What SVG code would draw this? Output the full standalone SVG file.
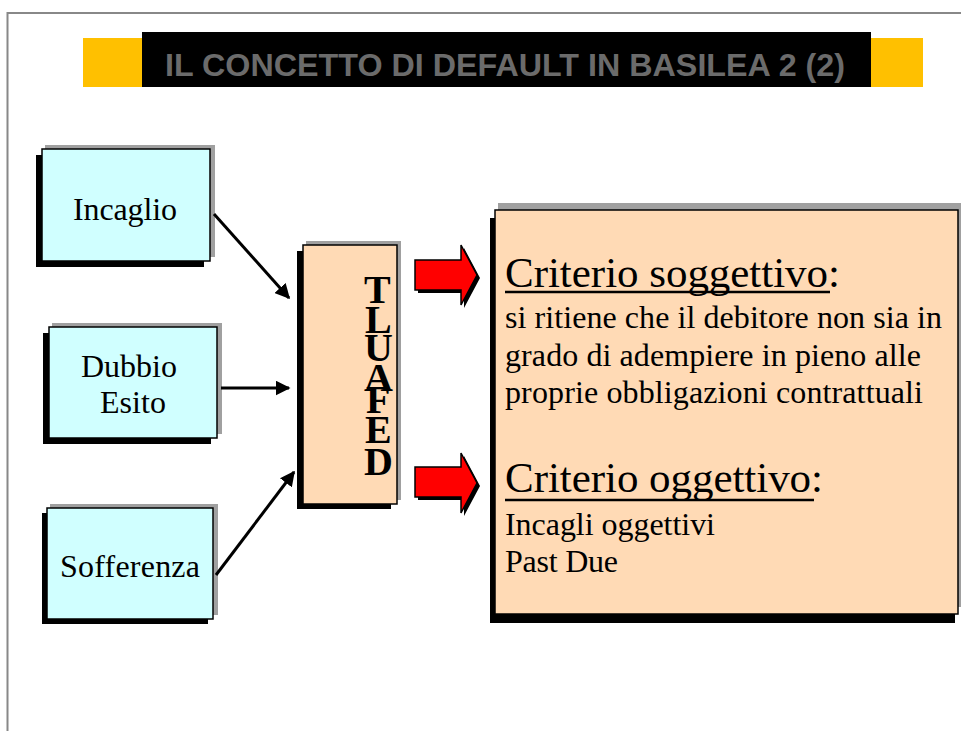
<svg xmlns="http://www.w3.org/2000/svg" width="961" height="731" viewBox="0 0 961 731">
<defs>
<style>
.frame{fill:none;stroke:#888888;stroke-width:2}
.gsh{fill:#a0a0a0}
.bsh{fill:#000000}
.cyan{fill:#d0ffff;stroke:#000;stroke-width:1.5}
.peach{fill:#ffdab5;stroke:#000;stroke-width:1.5}
.lbl{font-family:"Liberation Serif","Times New Roman",serif;font-size:32px;fill:#000}
.big{font-family:"Liberation Serif","Times New Roman",serif;font-size:43px;fill:#000}
.vl{font-family:"Liberation Serif","Times New Roman",serif;font-size:40px;font-weight:bold;fill:#000}
.title{font-family:"Liberation Sans",Arial,sans-serif;font-size:32px;font-weight:bold;fill:#6b6b6b}
.conn{stroke:#000;stroke-width:3;fill:none;marker-end:url(#ah)}
.red{fill:#ff0000;stroke:#000;stroke-width:1.5}
.ul{stroke:#000;stroke-width:2.5}
</style>
<marker id="ah" viewBox="0 0 10 10" refX="9" refY="5" markerWidth="5" markerHeight="5" orient="auto" markerUnits="strokeWidth">
<path d="M0,0 L10,5 L0,10 z" fill="#000"/>
</marker>
</defs>
<rect width="961" height="731" fill="#ffffff"/>
<path class="frame" d="M7.5,731 V13 H961"/>

<g id="title">
<rect x="83" y="38" width="840" height="49" fill="#ffc000"/>
<rect x="142" y="32" width="729" height="55" fill="#000"/>
<text class="title" x="165" y="76" textLength="680" lengthAdjust="spacingAndGlyphs">IL CONCETTO DI DEFAULT IN BASILEA 2 (2)</text>
</g>

<g id="incaglio">
<rect class="gsh" x="45" y="145" width="170" height="112"/>
<rect class="bsh" x="36" y="155" width="168" height="112"/>
<rect class="cyan" x="42" y="149" width="168" height="112"/>
<text class="lbl" x="73" y="220" textLength="104">Incaglio</text>
</g>

<g id="dubbio">
<rect class="gsh" x="52" y="323" width="170" height="111"/>
<rect class="bsh" x="43" y="333" width="168" height="111"/>
<rect class="cyan" x="49" y="327" width="168" height="111"/>
<text class="lbl" x="81" y="377" textLength="96">Dubbio</text>
<text class="lbl" x="100" y="413" textLength="66">Esito</text>
</g>

<g id="sofferenza">
<rect class="gsh" x="50" y="504" width="168" height="111"/>
<rect class="bsh" x="42" y="513" width="166" height="111"/>
<rect class="cyan" x="47" y="508" width="166" height="111"/>
<text class="lbl" x="60" y="577" textLength="140">Sofferenza</text>
</g>

<g id="default">
<rect class="gsh" x="306" y="241" width="95" height="259"/>
<rect class="bsh" x="297" y="251" width="94" height="258"/>
<rect class="peach" x="303" y="245" width="94" height="259"/>
<text class="vl" x="364" y="303">T</text>
<text class="vl" x="365" y="333">L</text>
<text class="vl" x="364" y="361">U</text>
<text class="vl" x="364" y="391">A</text>
<text class="vl" x="366" y="413">F</text>
<text class="vl" x="365" y="443">E</text>
<text class="vl" x="364" y="475">D</text>
</g>

<g id="criteri">
<rect class="gsh" x="498" y="203" width="463" height="404"/>
<rect class="bsh" x="490" y="218" width="465" height="405"/>
<rect class="peach" x="495" y="210" width="463" height="404"/>
<text class="big" x="505" y="287" textLength="335">Criterio soggettivo:</text>
<line class="ul" x1="505" y1="292" x2="830" y2="292"/>
<text class="lbl" x="505" y="328" textLength="437">si ritiene che il debitore non sia in</text>
<text class="lbl" x="505" y="366" textLength="416">grado di adempiere in pieno alle</text>
<text class="lbl" x="505" y="403" textLength="418">proprie obbligazioni contrattuali</text>
<text class="big" x="505" y="492" textLength="318">Criterio oggettivo:</text>
<line class="ul" x1="505" y1="500" x2="814" y2="500"/>
<text class="lbl" x="505" y="535" textLength="210">Incagli oggettivi</text>
<text class="lbl" x="505" y="572" textLength="113">Past Due</text>
</g>

<g id="connectors">
<line class="conn" x1="214" y1="214" x2="289" y2="298"/>
<line class="conn" x1="221" y1="388" x2="289" y2="388"/>
<line class="conn" x1="216" y1="575" x2="294" y2="472"/>
<g id="red-arrow-1">
<polygon fill="#000" points="418,263 464,263 464,248 480,278 464,308 464,293 418,293"/>
<polygon class="red" points="415,260 461,260 461,245 477,275 461,305 461,290 415,290"/>
</g>
<g id="red-arrow-2">
<polygon fill="#000" points="418,470 464,470 464,456 480,486 464,516 464,500 418,500"/>
<polygon class="red" points="415,467 461,467 461,453 477,483 461,513 461,497 415,497"/>
</g>
</g>
</svg>
